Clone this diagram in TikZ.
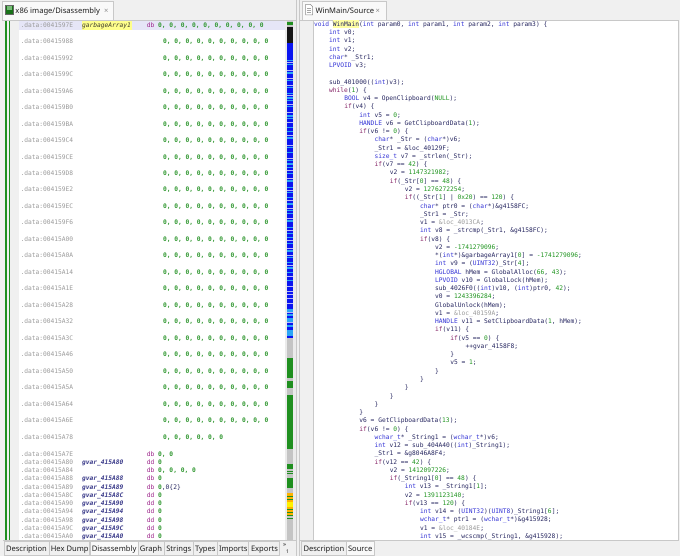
\documentclass[tikz,border=0pt]{standalone}
\usepackage{fontspec}
\setmainfont{Noto Sans}
\newfontfamily\codefont{DejaVu Sans Mono}
\definecolor{bgc}{HTML}{F0F0F0}
\definecolor{linec}{HTML}{C8C8C8}
\definecolor{idc}{HTML}{262660}
\definecolor{kwc}{HTML}{3333D6}
\definecolor{ctc}{HTML}{852366}
\definecolor{numc}{HTML}{1E941E}
\definecolor{gryc}{HTML}{9A9A9A}
\definecolor{addrc}{HTML}{9A9A9A}
\definecolor{valc}{HTML}{2E962E}
\definecolor{dirc}{HTML}{9B2289}
\definecolor{lblc}{HTML}{3B3B8A}
\definecolor{uic}{HTML}{1E1E1E}
\definecolor{gutgreen}{HTML}{1F8F1F}
\definecolor{mmblue}{HTML}{0A14F0}
\definecolor{mmlight}{HTML}{2BA6F5}
\definecolor{mmgray}{HTML}{C4C4C4}
\definecolor{hlyel}{HTML}{FFFF8C}
\definecolor{hlrow}{HTML}{E6E6F7}
\newcommand\kwd[1]{\textcolor{kwc}{#1}}
\newcommand\ctl[1]{\textcolor{ctc}{#1}}
\newcommand\nmb[1]{\textcolor{numc}{#1}}
\newcommand\gry[1]{\textcolor{gryc}{#1}}
\begin{document}
\begin{tikzpicture}[x=1pt,y=-1pt,
  code/.style={font=\codefont\fontsize{6.25}{7}\selectfont, text=idc, inner sep=0pt, outer sep=0pt, anchor=base west},
  addr/.style={code, text=addrc},
  vals/.style={code, text=valc, font=\codefont\bfseries\fontsize{6.25}{7}\selectfont},
  dirv/.style={code, text=dirc},
  lbl/.style={code, text=lblc, font=\codefont\bfseries\itshape\fontsize{6.25}{7}\selectfont},
  ui/.style={font=\fontsize{7.6}{9}\selectfont, text=uic, inner sep=0pt, outer sep=0pt, anchor=base west},
  tabbox/.style={draw=linec, fill=bgc, line width=0.5pt},
  seltab/.style={draw=linec, fill=white!60!bgc, line width=0.5pt},
]
\newcommand\srcline[3]{\node[code] (L#1) at ({314+15.15*#2},{26.3+8.26*(#1-1)}) {#3};}
\useasboundingbox (0,0) rectangle (680,556);
\fill[bgc] (0,0) rectangle (680,556);
% ---------------- left panel ----------------
\draw[seltab] (2,1.5) rectangle (113,20.5);
\draw[fill=gutgreen!80!black, draw=black!60, line width=0.6pt] (5.5,5) rectangle (13.5,14);
\fill[gutgreen!60] (7,6.5) rectangle (12,10.5);
\node[ui] (ltab) at (15.5,13.3) {x86 image/Disassembly};
\node[ui, text=black!45] (lx) at (104,13.3) {×};
\draw[linec, line width=0.5pt] (2,20.5) -- (296,20.5);
\fill[white] (19,21) rectangle (285,540);
\fill[bgc] (3,21) rectangle (19,540);
\fill[gutgreen] (5,21) rectangle (7.3,540);
\fill[gutgreen] (9.2,21) rectangle (10,540);
\fill[hlrow] (19,20.8) rectangle (285,30.2);
\fill[hlyel] (81.5,20.8) rectangle (131.5,30.2);
% minimap
\fill[black!8] (285,21) rectangle (296,540);
\fill[mmgray] (286.5,21) rectangle (293.3,540);
\fill[gutgreen] (286.5,22) rectangle (293.3,25);
\fill[black!92] (286.5,27) rectangle (293.3,43);
\fill[mmblue] (286.5,43) rectangle (293.3,338);
\foreach \yy/\hh in {60/1.5,64/1,72/2,80/1,87/1.5,93/1,97/2,100/1,106/1,115/2,118/1,127/1.5,131/1,137/2,147/1,152/1.5,160/1,163/2,167/1,173/1,180/2,187/1,192/1.5,197/1,203/2,210/1,213/1,220/2,227/1,233/1,237/1.5,243/1,250/2,257/1,262/1,267/2,272/1,280/1,309/3,314/2,318/4,325/2,330/6}
  {\fill[mmlight] (286.5,\yy) rectangle (293.3,\yy+\hh);}
\foreach \yy in {62,70,78,85,95,104,112,122,135,145,158,170,178,190,200,208,218,230,240,248,255,265,276,286,291,294,298,303,312,322}
  {\fill[white!70!mmblue] (286.5,\yy) rectangle (293.3,\yy+0.5);}
\fill[gutgreen] (286.5,358) rectangle (293.3,378);
\fill[gutgreen] (286.5,381) rectangle (293.3,388);
\fill[gutgreen] (286.5,395) rectangle (293.3,449);
\fill[gutgreen] (286.5,464) rectangle (293.3,469);
\fill[gutgreen] (286.5,470.5) rectangle (293.3,471.5);
\fill[gutgreen] (286.5,473) rectangle (293.3,474);
\fill[gutgreen] (286.5,478) rectangle (293.3,488);
\fill[orange!60!yellow] (286.5,493) rectangle (293.3,516);
\fill[yellow] (286.5,502) rectangle (293.3,507);
\foreach \yy in {496,499,509,512,515,518}
  {\fill[gutgreen] (286.5,\yy) rectangle (293.3,\yy+1);}
% big data rows
\foreach \ad [count=\k from 0] in {0041597E,00415988,00415992,0041599C,004159A6,004159B0,004159BA,004159C4,004159CE,004159D8,004159E2,004159EC,004159F6,00415A00,00415A0A,00415A14,00415A1E,00415A28,00415A32,00415A3C,00415A46,00415A50,00415A5A,00415A64,00415A6E,00415A78}
  {\node[addr] (ba\k) at (20.5,{27.2+16.48*\k}) {.data:\ad};}
\node[code, text=black!75!olive, font=\codefont\itshape\fontsize{6.25}{7}\selectfont] (garb) at (82,27.2) {garbageArray1};
\node[dirv] (bd0) at (146.8,27.2) {db};
\node[vals] (bv0) at (158.2,27.2) {0, 0, 0, 0, 0, 0, 0, 0, 0, 0};
\foreach \k in {1,...,24}
  {\node[vals] (bv\k) at (163,{27.2+16.48*\k}) {0, 0, 0, 0, 0, 0, 0, 0, 0, 0};}
\node[vals] (bv25) at (163,{27.2+16.48*25}) {0, 0, 0, 0, 0, 0};
% dense rows
\begin{scope}
\clip (19,21) rectangle (285,539.5);
\node[addr] (da0) at (20.5,456.2) {.data:00415A7E};
\node[dirv] (dd0) at (146.8,456.2) {db};
\node[vals] (dv0) at (158.2,456.2) {0, 0};
\node[addr] (da1) at (20.5,464.45) {.data:00415A80};
\node[lbl] (dl1) at (82,464.45) {gvar\_415A80};
\node[dirv] (dd1) at (146.8,464.45) {dd};
\node[vals] (dv1) at (158.2,464.45) {0};
\node[addr] (da2) at (20.5,472.7) {.data:00415A84};
\node[dirv] (dd2) at (146.8,472.7) {db};
\node[vals] (dv2) at (158.2,472.7) {0, 0, 0, 0};
\node[addr] (da3) at (20.5,480.95) {.data:00415A88};
\node[lbl] (dl3) at (82,480.95) {gvar\_415A88};
\node[dirv] (dd3) at (146.8,480.95) {db};
\node[vals] (dv3) at (158.2,480.95) {0};
\node[addr] (da4) at (20.5,489.2) {.data:00415A89};
\node[lbl] (dl4) at (82,489.2) {gvar\_415A89};
\node[dirv] (dd4) at (146.8,489.2) {db};
\node[vals] (dv4) at (158.2,489.2) {0\textcolor{idc}{\mdseries,0\{2\}}};
\node[addr] (da5) at (20.5,497.45) {.data:00415A8C};
\node[lbl] (dl5) at (82,497.45) {gvar\_415A8C};
\node[dirv] (dd5) at (146.8,497.45) {dd};
\node[vals] (dv5) at (158.2,497.45) {0};
\node[addr] (da6) at (20.5,505.7) {.data:00415A90};
\node[lbl] (dl6) at (82,505.7) {gvar\_415A90};
\node[dirv] (dd6) at (146.8,505.7) {dd};
\node[vals] (dv6) at (158.2,505.7) {0};
\node[addr] (da7) at (20.5,513.95) {.data:00415A94};
\node[lbl] (dl7) at (82,513.95) {gvar\_415A94};
\node[dirv] (dd7) at (146.8,513.95) {dd};
\node[vals] (dv7) at (158.2,513.95) {0};
\node[addr] (da8) at (20.5,522.2) {.data:00415A98};
\node[lbl] (dl8) at (82,522.2) {gvar\_415A98};
\node[dirv] (dd8) at (146.8,522.2) {dd};
\node[vals] (dv8) at (158.2,522.2) {0};
\node[addr] (da9) at (20.5,530.45) {.data:00415A9C};
\node[lbl] (dl9) at (82,530.45) {gvar\_415A9C};
\node[dirv] (dd9) at (146.8,530.45) {dd};
\node[vals] (dv9) at (158.2,530.45) {0};
\node[addr] (da10) at (20.5,538.7) {.data:00415AA0};
\node[lbl] (dl10) at (82,538.7) {gvar\_415AA0};
\node[dirv] (dd10) at (146.8,538.7) {dd};
\node[vals] (dv10) at (158.2,538.7) {0};
\end{scope}
% left bottom tabs
\draw[linec, line width=0.5pt] (3,540.5) -- (296,540.5);
\draw[tabbox] (4,541) rectangle (49,555);
\draw[tabbox] (49,541) rectangle (89.5,555);
\draw[seltab] (90,541) rectangle (138,555.5);
\draw[tabbox] (138,541) rectangle (164,555);
\draw[tabbox] (164,541) rectangle (193,555);
\draw[tabbox] (193,541) rectangle (217,555);
\draw[tabbox] (217,541) rectangle (248.5,555);
\draw[tabbox] (248.5,541) rectangle (279.5,555);
\node[ui] (t1) at (6,551) {Description};
\node[ui] (t2) at (50.8,551) {Hex Dump};
\node[ui] (t3) at (91.8,551) {Disassembly};
\node[ui] (t4) at (139.8,551) {Graph};
\node[ui] (t5) at (166.3,551) {Strings};
\node[ui] (t6) at (195,551) {Types};
\node[ui] (t7) at (219,551) {Imports};
\node[ui] (t8) at (251,551) {Exports};
\node[ui, font=\fontsize{6}{7}\selectfont] (t9a) at (283,546.5) {»};
\node[ui, font=\fontsize{5}{6}\selectfont] (t9b) at (286,553.5) {1};
% separator
\draw[linec, line width=0.6pt] (296.5,0) -- (296.5,556);
\draw[linec, line width=0.6pt] (299.5,0) -- (299.5,556);
% ---------------- right panel ----------------
\draw[seltab] (302,1.5) rectangle (386,20.5);
\draw[fill=white, draw=black!45, line width=0.5pt] (305.5,4.5) -- (310.5,4.5) -- (312.5,6.5) -- (312.5,15) -- (305.5,15) -- cycle;
\foreach \yy in {8,10,12} {\draw[black!35, line width=0.4pt] (307,\yy) -- (311,\yy);}
\node[ui] (rtab) at (315.5,13.3) {WinMain/Source};
\node[ui, text=black!45] (rx) at (375.5,13.3) {×};
\draw[linec, line width=0.5pt] (300,20.5) -- (679,20.5);
\fill[white] (313,21) rectangle (678,540);
\draw[linec, line width=0.5pt] (313,21) -- (313,540);
\draw[linec, line width=0.5pt] (678.5,21) -- (678.5,540);
\fill[hlyel!80!white] (332.8,19.9) rectangle (359.4,28.4);
\begin{scope}
\clip (313,21) rectangle (678,539.3);
\srcline{1}{0}{\kwd{void} WinMain(\kwd{int} param0, \kwd{int} param1, \kwd{int} param2, \kwd{int} param3) \{}
\srcline{2}{1}{\kwd{int} v0;}
\srcline{3}{1}{\kwd{int} v1;}
\srcline{4}{1}{\kwd{int} v2;}
\srcline{5}{1}{\kwd{char}* \_Str1;}
\srcline{6}{1}{\kwd{LPVOID} v3;}
\srcline{8}{1}{sub\_401000((\kwd{int})v3);}
\srcline{9}{1}{\ctl{while}(\nmb{1}) \{}
\srcline{10}{2}{\kwd{BOOL} v4 = OpenClipboard(\nmb{NULL});}
\srcline{11}{2}{\ctl{if}(v4) \{}
\srcline{12}{3}{\kwd{int} v5 = \nmb{0};}
\srcline{13}{3}{\kwd{HANDLE} v6 = GetClipboardData(\nmb{1});}
\srcline{14}{3}{\ctl{if}(v6 != \nmb{0}) \{}
\srcline{15}{4}{\kwd{char}* \_Str = (\kwd{char}*)v6;}
\srcline{16}{4}{\_Str1 = \&loc\_40129F;}
\srcline{17}{4}{\kwd{size\_t} v7 = \_strlen(\_Str);}
\srcline{18}{4}{\ctl{if}(v7 == \nmb{42}) \{}
\srcline{19}{5}{v2 = \nmb{1147321982};}
\srcline{20}{5}{\ctl{if}(\_Str[\nmb{0}] == \nmb{48}) \{}
\srcline{21}{6}{v2 = \nmb{1276272254};}
\srcline{22}{6}{\ctl{if}((\_Str[\nmb{1}] | \nmb{0x20}) == \nmb{120}) \{}
\srcline{23}{7}{\kwd{char}* ptr0 = (\kwd{char}*)\&g4158FC;}
\srcline{24}{7}{\_Str1 = \_Str;}
\srcline{25}{7}{v1 = \gry{\&loc\_4013CA};}
\srcline{26}{7}{\kwd{int} v8 = \_strcmp(\_Str1, \&g4158FC);}
\srcline{27}{7}{\ctl{if}(v8) \{}
\srcline{28}{8}{v2 = \nmb{-1741279096};}
\srcline{29}{8}{*(\kwd{int}*)\&garbageArray1[\nmb{0}] = \nmb{-1741279096};}
\srcline{30}{8}{\kwd{int} v9 = (\kwd{UINT32})\_Str[\nmb{4}];}
\srcline{31}{8}{\kwd{HGLOBAL} hMem = GlobalAlloc(\nmb{66}, \nmb{43});}
\srcline{32}{8}{\kwd{LPVOID} v10 = GlobalLock(hMem);}
\srcline{33}{8}{sub\_4026F0((\kwd{int})v10, (\kwd{int})ptr0, \nmb{42});}
\srcline{34}{8}{v0 = \nmb{1243396284};}
\srcline{35}{8}{GlobalUnlock(hMem);}
\srcline{36}{8}{v1 = \gry{\&loc\_40159A};}
\srcline{37}{8}{\kwd{HANDLE} v11 = SetClipboardData(\nmb{1}, hMem);}
\srcline{38}{8}{\ctl{if}(v11) \{}
\srcline{39}{9}{\ctl{if}(v5 == \nmb{0}) \{}
\srcline{40}{10}{++gvar\_4158F8;}
\srcline{41}{9}{\}}
\srcline{42}{9}{v5 = \nmb{1};}
\srcline{43}{8}{\}}
\srcline{44}{7}{\}}
\srcline{45}{6}{\}}
\srcline{46}{5}{\}}
\srcline{47}{4}{\}}
\srcline{48}{3}{\}}
\srcline{49}{3}{v6 = GetClipboardData(\nmb{13});}
\srcline{50}{3}{\ctl{if}(v6 != \nmb{0}) \{}
\srcline{51}{4}{\kwd{wchar\_t}* \_String1 = (\kwd{wchar\_t}*)v6;}
\srcline{52}{4}{\kwd{int} v12 = sub\_404A40((\kwd{int})\_String1);}
\srcline{53}{4}{\_Str1 = \&g8046A8F4;}
\srcline{54}{4}{\ctl{if}(v12 == \nmb{42}) \{}
\srcline{55}{5}{v2 = \nmb{1412097226};}
\srcline{56}{5}{\ctl{if}(\_String1[\nmb{0}] == \nmb{48}) \{}
\srcline{57}{6}{\kwd{int} v13 = \_String1[\nmb{1}];}
\srcline{58}{6}{v2 = \nmb{1391123140};}
\srcline{59}{6}{\ctl{if}(v13 == \nmb{120}) \{}
\srcline{60}{7}{\kwd{int} v14 = (\kwd{UINT32})(\kwd{UINT8})\_String1[\nmb{6}];}
\srcline{61}{7}{\kwd{wchar\_t}* ptr1 = (\kwd{wchar\_t}*)\&g415928;}
\srcline{62}{7}{v1 = \gry{\&loc\_40184E};}
\srcline{63}{7}{\kwd{int} v15 = \_wcscmp(\_String1, \&g415928);}
\end{scope}
% right bottom tabs
\draw[linec, line width=0.5pt] (300,540.5) -- (679,540.5);
\draw[tabbox] (301,541) rectangle (346,555);
\draw[seltab] (346,541) rectangle (374,555.5);
\node[ui] (r1) at (303.5,551) {Description};
\node[ui] (r2) at (348,551) {Source};
\end{tikzpicture}
\end{document}
